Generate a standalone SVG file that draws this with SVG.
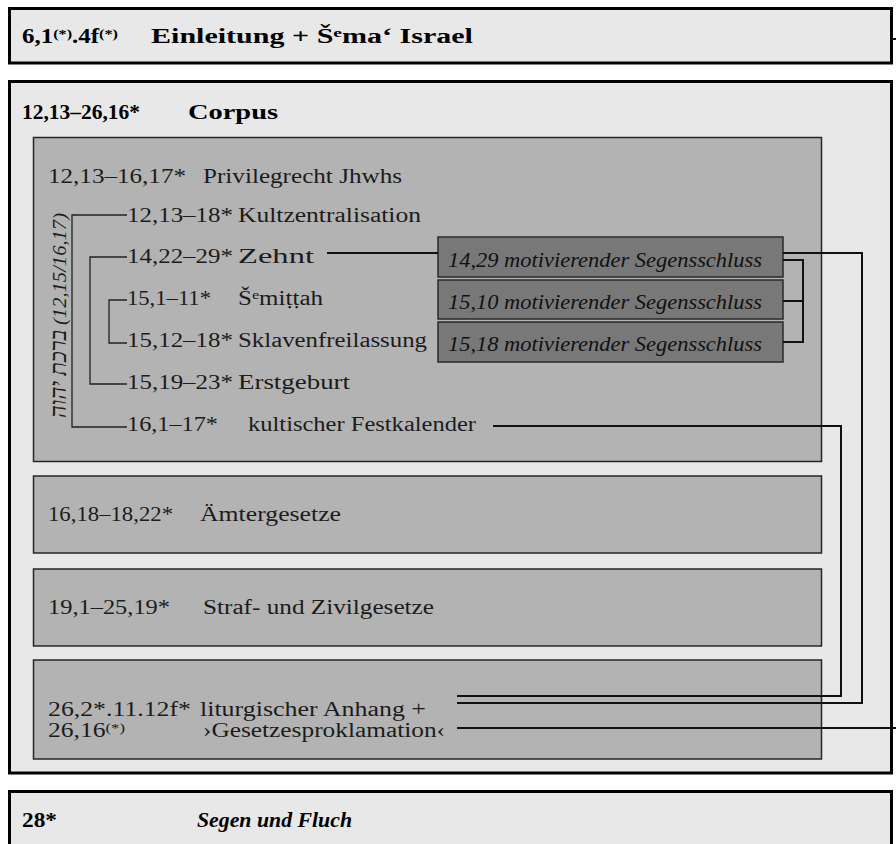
<svg xmlns="http://www.w3.org/2000/svg" width="896" height="844" viewBox="0 0 896 844">
  <style>
    .frame { fill: #e8e8e8; stroke: #000; stroke-width: 3; }
    .panel { fill: #b3b3b3; stroke: #262626; stroke-width: 1.5; }
    .note { fill: #787878; stroke: #2a2a2a; stroke-width: 1.5; }
    .t { font-family: "Liberation Serif", "DejaVu Serif", serif; font-size: 20px; fill: #1c1c1c; }
    .h { font-weight: bold; fill: #000; }
    .i { font-style: italic; }
    .n { font-size: 21px; fill: #111; }
    .heb { font-family: "Liberation Serif", "DejaVu Sans", serif; font-size: 19px; font-style: italic; fill: #1c1c1c; }
    .link { fill: none; stroke: #111; stroke-width: 2; }
    .brace { fill: none; stroke: #222; stroke-width: 1.3; }
  </style>

  <rect width="896" height="844" fill="#fff"/>

  <!-- frames -->
  <g id="intro">
    <rect class="frame" x="9.5" y="8.5" width="882" height="54.5"/>
    <text class="t h" x="22" y="43" textLength="96" lengthAdjust="spacingAndGlyphs">6,1<tspan font-size="13" dy="-5">(*)</tspan><tspan dy="5">.4f</tspan><tspan font-size="13" dy="-5">(*)</tspan></text>
    <text class="t h" x="151" y="43" textLength="322" lengthAdjust="spacingAndGlyphs">Einleitung + Š<tspan font-size="13" dy="-6">e</tspan><tspan dy="6">ma‘ Israel</tspan></text>
  </g>

  <g id="corpus">
    <rect class="frame" x="9.5" y="81.5" width="882" height="691.5"/>
    <text class="t h" x="22" y="119" textLength="118" lengthAdjust="spacingAndGlyphs">12,13–26,16*</text>
    <text class="t h" x="188" y="119" textLength="90" lengthAdjust="spacingAndGlyphs">Corpus</text>
  </g>

  <g id="blessing">
    <rect class="frame" x="9.5" y="791.5" width="882" height="70"/>
    <text class="t h" x="22" y="827" textLength="35" lengthAdjust="spacingAndGlyphs">28*</text>
    <text class="t h i" x="197" y="827" textLength="155" lengthAdjust="spacingAndGlyphs">Segen und Fluch</text>
  </g>

  <!-- panels inside the corpus -->
  <g id="privilegrecht">
    <rect class="panel" x="33.5" y="137.5" width="788" height="324"/>
    <text class="t" x="48" y="183" textLength="138" lengthAdjust="spacingAndGlyphs">12,13–16,17*</text>
    <text class="t" x="203" y="183" textLength="199" lengthAdjust="spacingAndGlyphs">Privilegrecht Jhwhs</text>
    <!-- vertical label, read bottom to top -->
    <g transform="translate(66,418) rotate(-90)">
      <text class="heb" x="0" y="0" textLength="88" lengthAdjust="spacingAndGlyphs" style="font-size: 23px">ברכת יהוה</text>
      <text class="heb" x="93" y="0" textLength="112" lengthAdjust="spacingAndGlyphs">(12,15/16,17)</text>
    </g>
  </g>

  <g id="kultzentralisation">
    <text class="t" x="127" y="222" textLength="106" lengthAdjust="spacingAndGlyphs">12,13–18*</text>
    <text class="t" x="238" y="222" textLength="183" lengthAdjust="spacingAndGlyphs">Kultzentralisation</text>
  </g>
  <g id="zehnt">
    <text class="t" x="127" y="263" textLength="106" lengthAdjust="spacingAndGlyphs">14,22–29*</text>
    <text class="t" x="238" y="263" textLength="76" lengthAdjust="spacingAndGlyphs">Zehnt</text>
  </g>
  <g id="schemittah">
    <text class="t" x="127" y="305" textLength="84" lengthAdjust="spacingAndGlyphs">15,1–11*</text>
    <text class="t" x="238" y="305" textLength="85" lengthAdjust="spacingAndGlyphs">Š<tspan font-size="13" dy="-6">e</tspan><tspan dy="6">miṭṭah</tspan></text>
  </g>
  <g id="sklavenfreilassung">
    <text class="t" x="127" y="347" textLength="106" lengthAdjust="spacingAndGlyphs">15,12–18*</text>
    <text class="t" x="238" y="347" textLength="189" lengthAdjust="spacingAndGlyphs">Sklavenfreilassung</text>
  </g>
  <g id="erstgeburt">
    <text class="t" x="127" y="389" textLength="106" lengthAdjust="spacingAndGlyphs">15,19–23*</text>
    <text class="t" x="238" y="389" textLength="112" lengthAdjust="spacingAndGlyphs">Erstgeburt</text>
  </g>
  <g id="festkalender">
    <text class="t" x="127" y="431" textLength="91" lengthAdjust="spacingAndGlyphs">16,1–17*</text>
    <text class="t" x="248" y="431" textLength="228" lengthAdjust="spacingAndGlyphs">kultischer Festkalender</text>
  </g>

  <g id="segensschluss-1429">
    <rect class="note" x="438" y="237" width="345" height="40"/>
    <text class="t i n" x="448" y="267" textLength="314" lengthAdjust="spacingAndGlyphs">14,29 motivierender Segensschluss</text>
  </g>
  <g id="segensschluss-1510">
    <rect class="note" x="438" y="280" width="345" height="39"/>
    <text class="t i n" x="448" y="309" textLength="314" lengthAdjust="spacingAndGlyphs">15,10 motivierender Segensschluss</text>
  </g>
  <g id="segensschluss-1518">
    <rect class="note" x="438" y="322" width="345" height="40"/>
    <text class="t i n" x="448" y="351" textLength="314" lengthAdjust="spacingAndGlyphs">15,18 motivierender Segensschluss</text>
  </g>

  <g id="aemtergesetze">
    <rect class="panel" x="33.5" y="476" width="788" height="77"/>
    <text class="t" x="48" y="521" textLength="125" lengthAdjust="spacingAndGlyphs">16,18–18,22*</text>
    <text class="t" x="200" y="521" textLength="141" lengthAdjust="spacingAndGlyphs">Ämtergesetze</text>
  </g>

  <g id="straf-zivilgesetze">
    <rect class="panel" x="33.5" y="569" width="788" height="77"/>
    <text class="t" x="48" y="614" textLength="122" lengthAdjust="spacingAndGlyphs">19,1–25,19*</text>
    <text class="t" x="203" y="614" textLength="231" lengthAdjust="spacingAndGlyphs">Straf- und Zivilgesetze</text>
  </g>

  <g id="anhang">
    <rect class="panel" x="33.5" y="660" width="788" height="99"/>
    <text class="t" x="48" y="716" textLength="143" lengthAdjust="spacingAndGlyphs">26,2*.11.12f*</text>
    <text class="t" x="200" y="716" textLength="226" lengthAdjust="spacingAndGlyphs">liturgischer Anhang +</text>
    <text class="t" x="48" y="737" textLength="77" lengthAdjust="spacingAndGlyphs">26,16<tspan font-size="13" dy="-5">(*)</tspan></text>
    <text class="t" x="203" y="737" textLength="242" lengthAdjust="spacingAndGlyphs">›Gesetzesproklamation‹</text>
  </g>

  <!-- connectors -->
  <g id="connectors">
    <path class="brace" d="M127 215 H72 V427 H127"/>
    <path class="brace" d="M127 257 H90 V384 H127"/>
    <path class="brace" d="M127 300 H109 V343 H127"/>
    <path class="link" d="M327 253 H438"/>
    <path class="link" d="M783 260 H803 V342 H783 M783 301 H803"/>
    <path class="link" d="M783 253 H862 V703 H457"/>
    <path class="link" d="M493 426 H841 V696 H457"/>
    <path class="link" d="M457 728 H896"/>
    <path class="link" d="M892 39 H896"/>
  </g>
</svg>
